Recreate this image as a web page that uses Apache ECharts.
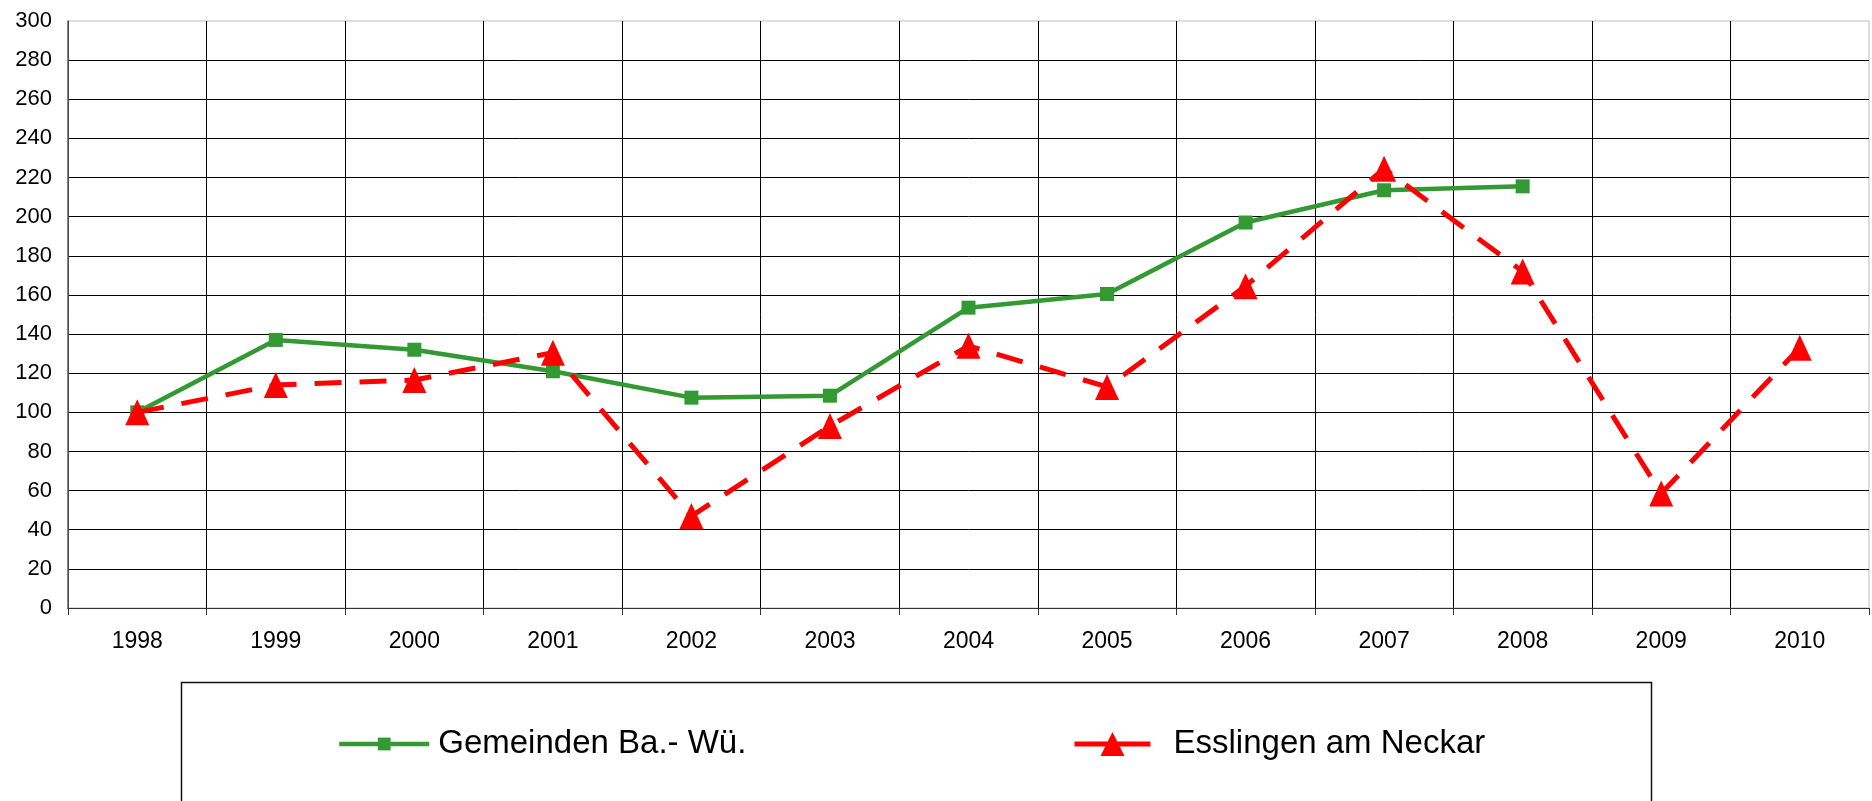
<!DOCTYPE html>
<html>
<head>
<meta charset="utf-8">
<title>Gemeinden Ba.-Wü. / Esslingen am Neckar</title>
<script src="https://cdn.jsdelivr.net/npm/echarts@6/dist/echarts.min.js"></script>
<style>
    html, body { margin: 0; padding: 0; background: #fff; }
    #chart { width: 1872px; height: 801px; }
</style>
</head>
<body>
<div id="chart"></div>
<script>
// Jahre (x-Achse)
var years = ['1998', '1999', '2000', '2001', '2002', '2003', '2004', '2005', '2006', '2007', '2008', '2009', '2010'];

// Index 1998 = 100
var gemeindenBW = [100, 137, 132, 121, 107.5, 108.5, 153.5, 160.5, 197, 213.5, 215.5, null, null];
var esslingen = [100, 114, 116.5, 130.5, 47, 93, 134, 113, 164.5, 224.5, 172, 58.5, 133];

var seriesNames = ['Gemeinden Ba.- Wü.', 'Esslingen am Neckar'];

// y-Achse 0..300, Schritt 20
var yMin = 0;
var yMax = 300;
var yStep = 20;

var fontFamily = '"Liberation Sans", Arial, sans-serif';

// 基于准备好的dom，初始化echarts图表
var myChart = echarts.init(document.getElementById('chart'));

var option = {
    backgroundColor: '#fff',
    animation: false,
    textStyle: { fontFamily: fontFamily },
    grid: {
        left: 68,
        right: 3,
        top: 21,
        bottom: 193,
        show: true,
        borderColor: '#d4d4d4',
        borderWidth: 1.5
    },
    xAxis: {
        type: 'category',
        data: years,
        boundaryGap: true,
        axisLine: { lineStyle: { color: '#333', width: 1.2 } },
        axisTick: { show: true, length: 7, lineStyle: { color: '#333' } },
        axisLabel: { color: '#000', fontSize: 23, margin: 22, fontFamily: fontFamily },
        splitLine: { show: true, showMaxLine: false, lineStyle: { color: '#000', width: 1 } }
    },
    yAxis: {
        type: 'value',
        min: yMin,
        max: yMax,
        interval: yStep,
        axisLine: { show: true, lineStyle: { color: '#666', width: 1.5 } },
        axisTick: { show: false },
        axisLabel: { color: '#000', fontSize: 22, margin: 16, fontFamily: fontFamily },
        splitLine: { show: true, showMaxLine: false, lineStyle: { color: '#000', width: 1 } }
    },
    legend: [
        {
            data: [seriesNames[0]],
            left: 337,
            top: 723,
            padding: 0,
            itemWidth: 90,
            itemHeight: 16,
            lineStyle: { width: 4.5 },
            textStyle: { color: '#000', fontSize: 33, lineHeight: 42, padding: [0, 0, 0, 4], fontFamily: fontFamily }
        },
        {
            data: [seriesNames[1]],
            left: 1072,
            top: 723,
            padding: 0,
            itemWidth: 76,
            itemHeight: 30,
            lineStyle: { type: 'solid', width: 5 },
            textStyle: { color: '#000', fontSize: 33, lineHeight: 42, padding: [0, 0, 0, 18], fontFamily: fontFamily }
        }
    ],
    // Rahmen um die Legende (unten abgeschnitten wie im Original)
    graphic: [
        {
            type: 'rect',
            shape: { x: 181.5, y: 682.5, width: 1470, height: 200 },
            style: { fill: 'none', stroke: '#111', lineWidth: 1.5 },
            z: 0
        }
    ],
    series: [
        {
            name: seriesNames[0],
            type: 'line',
            data: gemeindenBW,
            symbol: 'rect',
            symbolSize: 14,
            connectNulls: false,
            itemStyle: { color: '#339933' },
            lineStyle: { color: '#339933', width: 4.5 },
            z: 2
        },
        {
            name: seriesNames[1],
            type: 'line',
            data: esslingen,
            symbol: 'triangle',
            symbolSize: [24, 26],
            itemStyle: { color: '#ff0000' },
            lineStyle: { color: '#ff0000', width: 5, type: [27, 18] },
            z: 3
        }
    ]
};

myChart.setOption(option);
</script>
</body>
</html>
